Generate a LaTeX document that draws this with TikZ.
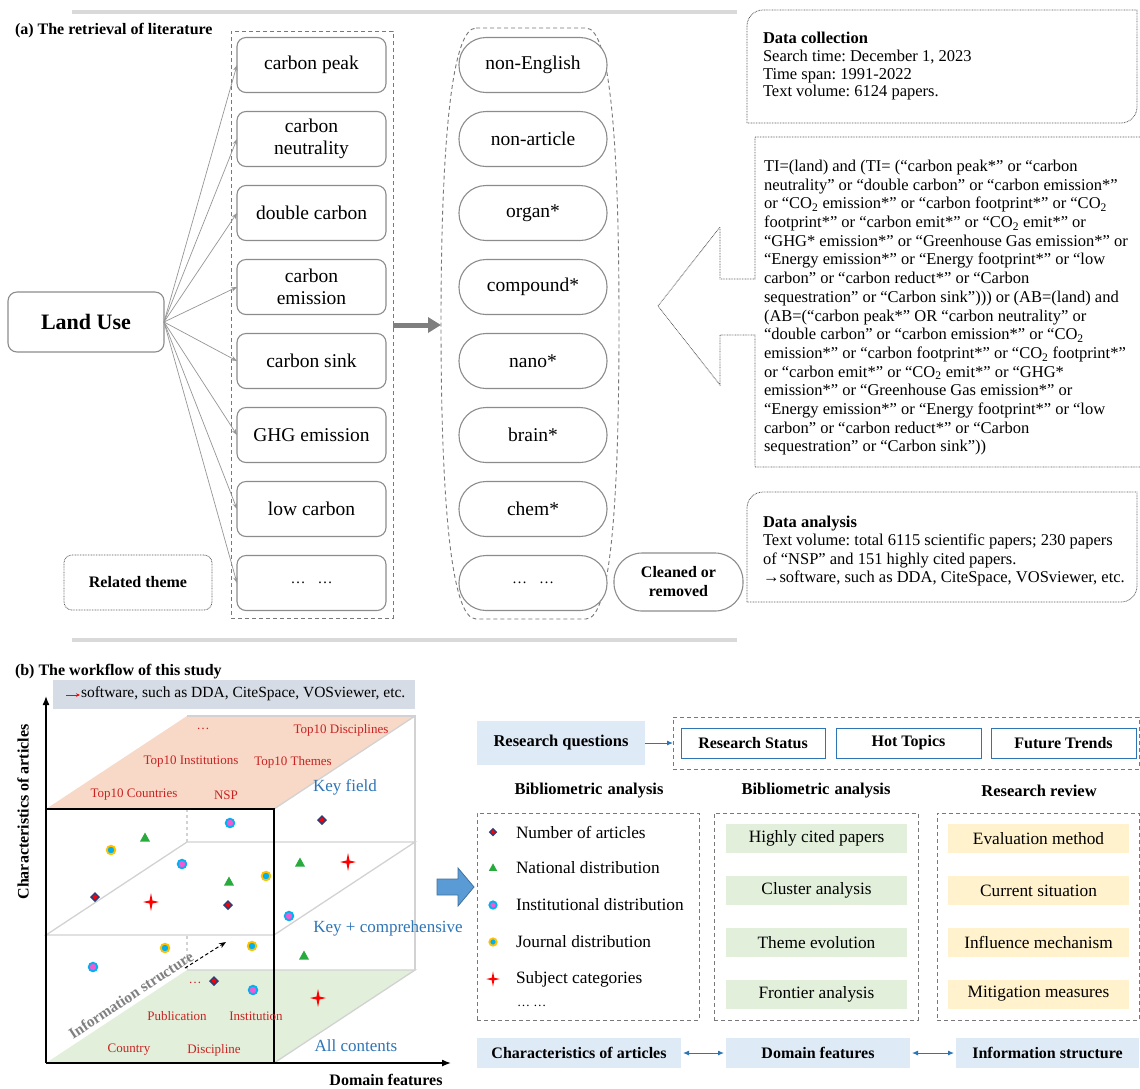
\documentclass[tikz,border=0pt]{standalone}
\usepackage{fontspec}
\setmainfont{Liberation Serif}
\usetikzlibrary{arrows.meta}
\newcommand\myfs[2]{\fontsize{#1}{#2}\selectfont}
\definecolor{boxgray}{RGB}{140,140,140}
\definecolor{connGray}{RGB}{150,150,150}
\definecolor{grpGray}{RGB}{120,120,120}
\definecolor{dotGray}{RGB}{90,90,90}
\definecolor{sepGray}{RGB}{217,217,217}
\definecolor{arrowGray}{RGB}{127,127,127}
\definecolor{planeGray}{RGB}{210,210,210}
\definecolor{orangeF}{RGB}{248,216,198}
\definecolor{greenF}{RGB}{226,239,218}
\definecolor{yellowF}{RGB}{255,242,204}
\definecolor{blueF}{RGB}{222,234,246}
\definecolor{bannerF}{RGB}{214,220,229}
\definecolor{redT}{RGB}{200,35,35}
\definecolor{blueT}{RGB}{46,117,182}
\definecolor{infoGray}{RGB}{128,128,128}
\definecolor{navyC}{RGB}{47,62,120}
\definecolor{triG}{RGB}{40,170,60}
\definecolor{pinkC}{RGB}{240,90,210}
\definecolor{cyanC}{RGB}{0,176,240}
\definecolor{yellowC}{RGB}{255,192,0}
\definecolor{blockBlue}{RGB}{91,155,213}
\definecolor{blockEdge}{RGB}{65,113,156}
\frenchspacing
\begin{document}
\begin{tikzpicture}[x=1pt,y=-1pt, every node/.style={inner sep=0pt, outer sep=0pt},
  kbox/.style={draw=boxgray, line width=1.1pt, rounded corners=9pt, fill=white, minimum width=149pt, minimum height=55pt, align=center, font=\myfs{19.5}{22}},
  pillbox/.style={kbox, rounded corners=27pt, minimum width=148pt},
  conn/.style={draw=connGray, line width=0.7pt, -{Stealth[length=6pt,width=4.5pt]}},
  dotline/.style={draw=dotGray, line width=0.8pt, dash pattern=on 0.8pt off 0.8pt},
  grpdash/.style={draw=grpGray, line width=0.9pt, dash pattern=on 4pt off 3pt},
  redlab/.style={text=redT, font=\myfs{13}{15}},
  bluelab/.style={text=blueT, font=\myfs{17}{19}},
  gbox/.style={fill=greenF, minimum width=181pt, minimum height=29pt, font=\myfs{17.3}{19}},
  ybox/.style={fill=yellowF, minimum width=181pt, minimum height=29pt, font=\myfs{17.3}{19}},
  rqbox/.style={draw=blueT, line width=1pt, fill=white, minimum width=144pt, minimum height=30pt, font=\bfseries\myfs{16}{18}},
  barbox/.style={fill=blueF, minimum height=30pt, font=\bfseries\myfs{16}{18}},
  legtext/.style={anchor=west, font=\myfs{17.3}{19}},
  planeline/.style={draw=planeGray, line width=1.3pt},
  mkdiam/.pic={\fill[navyC] (-5,0)--(0,-5)--(5,0)--(0,5)--cycle; \fill[red] (-2.6,0)--(0,-2.6)--(2.6,0)--(0,2.6)--cycle;},
  mktri/.pic={\fill[triG] (0,-5.5)--(5,3.5)--(-5,3.5)--cycle;},
  mkinst/.pic={\filldraw[fill=pinkC, draw=cyanC, line width=1.8pt] (0,0) circle (4.3pt);},
  mkjour/.pic={\filldraw[fill=cyanC, draw=yellowC, line width=1.8pt] (0,0) circle (4.3pt);},
  mkstar/.pic={\fill[red] (0,-9)--(1.5,-1.5)--(8,0)--(1.5,1.5)--(0,9)--(-1.5,1.5)--(-8,0)--(-1.5,-1.5)--cycle;}
]
\useasboundingbox (0,0) rectangle (1140,1088);
\fill[white] (0,0) rectangle (1140,1088);

%% ================= (a) =================
\draw[sepGray, line width=4pt] (72,12) -- (737,12);
\node[anchor=west, font=\bfseries\myfs{16}{18}] (ta) at (15,31) {(a) The retrieval of literature};

\node[grpdash, draw, minimum width=162pt, minimum height=587pt] (grp1) at (312,324.5) {};

\node[kbox] (b1) at (311.5,65) {carbon peak};
\node[kbox] (b2) at (311.5,139) {carbon\\neutrality};
\node[kbox] (b3) at (311.5,213) {double carbon};
\node[kbox] (b4) at (311.5,287) {carbon\\emission};
\node[kbox] (b5) at (311.5,361) {carbon sink};
\node[kbox] (b6) at (311.5,435) {GHG emission};
\node[kbox] (b7) at (311.5,509) {low carbon};
\node[kbox, font=\myfs{15}{18}] (b8) at (311.5,583) {…\hspace{12pt}…};

\node[kbox, minimum width=156pt, minimum height=60pt, font=\bfseries\myfs{22}{24}] (land) at (86,322) {Land Use};
\foreach \n in {b1,b2,b3,b4,b5,b6,b7,b8} \draw[conn] (land.east) -- (\n.west);

\node[dotline, draw, rounded corners=8pt, minimum width=148pt, minimum height=55pt, font=\bfseries\myfs{16}{19}] (rel) at (138,582.5) {Related theme};

% middle group
\draw[grpdash] (476,28) -- (586,28) .. controls (611,28) and (619,150) .. (619,323) .. controls (619,500) and (611,619) .. (586,619) -- (476,619) .. controls (451,619) and (441,500) .. (441,323) .. controls (441,150) and (451,28) .. (476,28) -- cycle;
\coordinate (g2w) at (441,325);
\draw[arrowGray, line width=5pt, -{Triangle[length=13pt,width=15pt]}] (grp1.east |- g2w) -- (g2w);

\node[pillbox] (p1) at (533,65) {non-English};
\node[pillbox] (p2) at (533,139) {non-article};
\node[pillbox] (p3) at (533,213) {organ*};
\node[pillbox] (p4) at (533,287) {compound*};
\node[pillbox] (p5) at (533,361) {nano*};
\node[pillbox] (p6) at (533,435) {brain*};
\node[pillbox] (p7) at (533,509) {chem*};
\node[pillbox, font=\myfs{15}{18}] (p8) at (533,583) {…\hspace{12pt}…};

\node[kbox, rounded corners=28pt, minimum width=129pt, minimum height=58pt, font=\bfseries\myfs{16}{19}] (clean) at (678.5,582) {Cleaned or\\removed};

% data collection box
\draw[dotline] (747,123) -- (747,26) to[out=90,in=180] (763,10) -- (1137,10) -- (1137,107) to[out=-90,in=0] (1121,123) -- cycle;
\node[anchor=north west, align=left, font=\myfs{16.5}{17.8}] (dc) at (763,32) {\textbf{Data collection}\\Search time: December 1, 2023\\Time span: 1991-2022\\Text volume: 6124 papers.};

% callout with arrow
\draw[dotline] (1140,137) -- (755,137) -- (755,279) -- (720,279) -- (720,227) -- (658,306) -- (720,385) -- (720,335) -- (755,335) -- (755,467) -- (1140,467);
\node[anchor=north west, align=left, font=\myfs{16.5}{18.7}] (ti) at (764,160) {TI=(land) and (TI= (“carbon peak*” or “carbon\\
neutrality” or “double carbon” or “carbon emission*”\\
or “CO\textsubscript{2} emission*” or “carbon footprint*” or “CO\textsubscript{2}\\
footprint*” or “carbon emit*” or “CO\textsubscript{2} emit*” or\\
“GHG* emission*” or “Greenhouse Gas emission*” or\\
“Energy emission*” or “Energy footprint*” or “low\\
carbon” or “carbon reduct*” or “Carbon\\
sequestration” or “Carbon sink”))) or (AB=(land) and\\
(AB=(“carbon peak*” OR “carbon neutrality” or\\
“double carbon” or “carbon emission*” or “CO\textsubscript{2}\\
emission*” or “carbon footprint*” or “CO\textsubscript{2} footprint*”\\
or “carbon emit*” or “CO\textsubscript{2} emit*” or “GHG*\\
emission*” or “Greenhouse Gas emission*” or\\
“Energy emission*” or “Energy footprint*” or “low\\
carbon” or “carbon reduct*” or “Carbon\\
sequestration” or “Carbon sink”))};

% data analysis box
\draw[dotline] (747,602) -- (747,508) to[out=90,in=180] (763,492) -- (1137,492) -- (1137,586) to[out=-90,in=0] (1121,602) -- cycle;
\node[anchor=north west, align=left, font=\myfs{16.5}{18.5}] (da) at (763,516) {\textbf{Data analysis}\\Text volume: total 6115 scientific papers; 230 papers\\of “NSP” and 151 highly cited papers.\\→software, such as DDA, CiteSpace, VOSviewer, etc.};

%% ================= (b) =================
\draw[sepGray, line width=4pt] (72,640) -- (737,640);
\node[anchor=west, font=\bfseries\myfs{16}{18}] (tb) at (15,672) {(b) The workflow of this study};

\node[fill=bannerF, minimum width=362pt, minimum height=29pt] (banner) at (234,694.5) {};
\coordinate (ra1) at (66,695);
\coordinate (ra2) at (80,695);
\draw[red, line width=0.9pt, -{Stealth[length=4pt,width=3.5pt]}] (ra1) -- (ra2);
\node[anchor=west, font=\myfs{15.5}{18}] (bantext) at (81,694) {software, such as DDA, CiteSpace, VOSviewer, etc.};

% cube fills
\fill[greenF] (46,1063) -- (274,1063) -- (415,970) -- (187,970) -- cycle;
\fill[orangeF] (46,809) -- (274,809) -- (415,716) -- (187,716) -- cycle;
% plane lines
\draw[planeline] (187,716) -- (415,716) -- (415,970);
\draw[planeline] (274,809) -- (415,716);
\draw[planeline] (46,935) -- (187,842) -- (415,842) -- (274,935) -- cycle;
\draw[planeline] (187,970) -- (415,970) -- (274,1063);
\draw[planeline, dashed] (187,809) -- (187,842);
\draw[planeline, dashed] (187,936) -- (187,970);
% front face
\draw[black, line width=1.3pt] (46,809) -- (274,809) -- (274,1063);
% axes
\coordinate (org) at (46,1063);
\coordinate (ytop) at (46,696);
\coordinate (xend) at (451,1063);
\draw[black, line width=1.4pt, -{Latex[length=9pt,width=7pt]}] (org) -- (ytop);
\draw[black, line width=1.4pt, -{Latex[length=9pt,width=7pt]}] (org) -- (xend);
\node[rotate=90, font=\bfseries\myfs{16}{18}] (ylab) at (23,812) {Characteristics of articles};
\node[font=\bfseries\myfs{16}{18}] (xlab) at (386,1080) {Domain features};

% top plane labels
\node[redlab] (t1) at (203,729) {…};
\node[redlab] (t2) at (341,730) {Top10 Disciplines};
\node[redlab] (t3) at (191,762) {Top10 Institutions};
\node[redlab] (t4) at (293,762) {Top10 Themes};
\node[redlab] (t5) at (134,795) {Top10 Countries};
\node[redlab] (t6) at (226,795) {NSP};
\node[bluelab] (kf) at (345,787) {Key field};
\node[bluelab] (kc) at (388,928) {Key + comprehensive};
\node[bluelab] (ac) at (356,1046) {All contents};
% bottom plane labels
\node[redlab] (u1) at (195,983) {…};
\node[redlab] (u2) at (177,1016) {Publication};
\node[redlab] (u3) at (256,1016) {Institution};
\node[redlab] (u4) at (129,1050) {Country};
\node[redlab] (u5) at (214,1050) {Discipline};

\node[rotate=33.4, text=infoGray, font=\bfseries\myfs{15.5}{18}] (info) at (131,995) {Information structure};
\coordinate (ia) at (185,968);
\coordinate (ib) at (226,942);
\draw[black, line width=1pt, dash pattern=on 3.5pt off 2.5pt, -{Stealth[length=7pt,width=5.5pt]}] (ia) -- (ib);

% markers
\foreach \p in {(230,823),(182,864),(289,916),(93,967),(253,990)} \pic at \p {mkinst};
\foreach \p in {(322,820),(95,897),(228,905),(214,981)} \pic at \p {mkdiam};
\foreach \p in {(145,838),(300,863),(229,882),(304,956)} \pic at \p {mktri};
\foreach \p in {(111,850),(266,876),(165,948),(252,946)} \pic at \p {mkjour};
\foreach \p in {(348,862),(151,902),(318,998)} \pic at \p {mkstar};

% block arrow
\filldraw[fill=blockBlue, draw=blockEdge, line width=0.8pt] (437,879) -- (458,879) -- (458,868) -- (474,887) -- (458,906) -- (458,895) -- (437,895) -- cycle;

% research questions
\node[fill=blueF, minimum width=168pt, minimum height=44pt, font=\bfseries\myfs{16.5}{18}] (rq) at (561,743) {Research questions};
\node[grpdash, draw, minimum width=466pt, minimum height=52pt] (rqg) at (906,743) {};
\draw[blueT, line width=1pt, -{Latex[length=6pt,width=5pt]}] (rq.east) -- (rqg.west);
\node[rqbox] (rs) at (753,743) {Research Status};
\node[rqbox, minimum width=145pt] (ht) at (908.5,743) {Hot Topics};
\node[rqbox, minimum width=145pt] (ft) at (1063.5,743) {Future Trends};

% headings
\node[font=\bfseries\myfs{16.5}{18}] (h1) at (589,791) {Bibliometric\hspace{5pt}analysis};
\node[font=\bfseries\myfs{16.5}{18}] (h2) at (816,791) {Bibliometric\hspace{5pt}analysis};
\node[font=\bfseries\myfs{16.5}{18}] (h3) at (1039,791) {Research review};

% dashed columns
\node[grpdash, draw, minimum width=222pt, minimum height=207pt] (c1) at (588,916.5) {};
\node[grpdash, draw, minimum width=204pt, minimum height=207pt] (c2) at (816,916.5) {};
\node[grpdash, draw, minimum width=202pt, minimum height=207pt] (c3) at (1038,916.5) {};

% legend
\pic[scale=0.85] at (493,832) {mkdiam};
\pic[scale=0.85] at (493,868) {mktri};
\pic[scale=0.85] at (493,905) {mkinst};
\pic[scale=0.85] at (493,942) {mkjour};
\pic[scale=0.85] at (493,979) {mkstar};
\node[legtext] (l1) at (516,832) {Number of articles};
\node[legtext] (l2) at (516,868) {National distribution};
\node[legtext] (l3) at (516,905) {Institutional distribution};
\node[legtext] (l4) at (516,942) {Journal distribution};
\node[legtext] (l5) at (516,979) {Subject categories};
\node[legtext, font=\myfs{13}{15}] (l6) at (517,1006) {… …};

% green & yellow
\node[gbox] (g1) at (816.5,838.5) {Highly cited papers};
\node[gbox] (g2) at (816.5,890.5) {Cluster analysis};
\node[gbox] (g3) at (816.5,942.5) {Theme evolution};
\node[gbox] (g4) at (816.5,994) {Frontier analysis};
\node[ybox] (y1) at (1038.5,838.5) {Evaluation method};
\node[ybox] (y2) at (1038.5,890.5) {Current situation};
\node[ybox] (y3) at (1038.5,942.5) {Influence mechanism};
\node[ybox] (y4) at (1038.5,994) {Mitigation measures};

% bottom bars
\node[barbox, minimum width=204pt] (bc) at (579,1053) {Characteristics of articles};
\node[barbox, minimum width=184pt] (bd) at (818,1053) {Domain features};
\node[barbox, minimum width=183pt] (bi) at (1047.5,1053) {Information structure};
\draw[blueT, line width=1pt, {Latex[length=6pt,width=5pt]}-{Latex[length=6pt,width=5pt]}, shorten <=2pt, shorten >=2pt] (bc.east) -- (bd.west);
\draw[blueT, line width=1pt, {Latex[length=6pt,width=5pt]}-{Latex[length=6pt,width=5pt]}, shorten <=2pt, shorten >=2pt] (bd.east) -- (bi.west);
\end{tikzpicture}
\end{document}
